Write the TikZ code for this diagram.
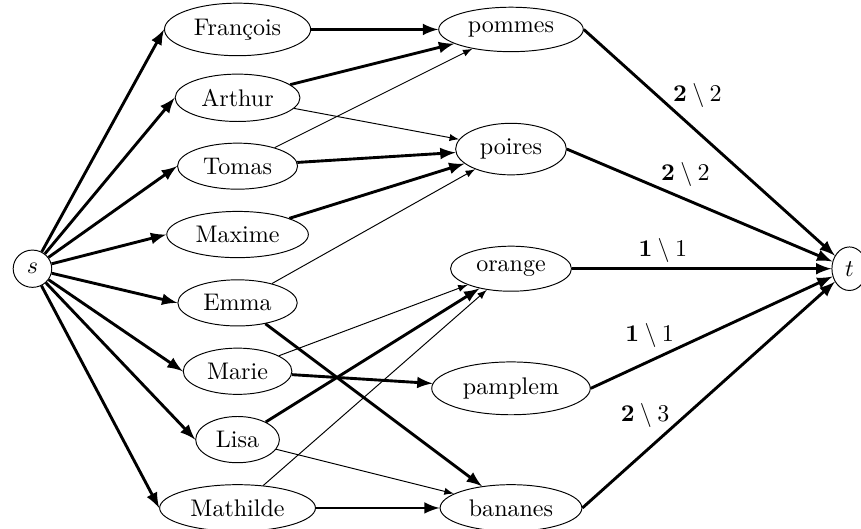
\documentclass[tikz,border=0pt]{standalone}
\usepackage{amsmath,amsfonts}
\usetikzlibrary{arrows,shapes}
\tikzstyle{fnode}=[draw, ellipse, line width=0.4pt]
\tikzstyle{flow}=[-latex, line width=1.2pt]
\tikzstyle{noflow}=[-latex, line width=0.4pt]
\tikzstyle{flowlbl}=[pos=0.35, inner sep=0pt]

\begin{document}
\begin{tikzpicture}[flow]
\useasboundingbox (-0.475,-0.307) rectangle (12.12,7.431);
\node[fnode] (s) at (0,3.5) {$s$};
\node[fnode] (t) at (11.95,3.5) {$t$};
\node[fnode] (Fr) at (3,7) {François};
\node[fnode] (Ar) at (3,6) {Arthur};
\node[fnode] (To) at (3,5) {Tomas};
\node[fnode] (Mx) at (3,4) {Maxime};
\node[fnode] (Em) at (3,3) {Emma};
\node[fnode] (Mr) at (3,2) {Marie};
\node[fnode] (Li) at (3,1) {Lisa};
\node[fnode] (Mt) at (3,0) {Mathilde};
\node[fnode] (Po) at (7,7) {pommes};
\node[fnode] (Pr) at (7,5.25) {poires};
\node[fnode] (Or) at (7,3.5) {orange};
\node[fnode] (Pa) at (7,1.75) {pamplem};
\node[fnode] (Ba) at (7,0) {bananes};
\foreach \p in {Fr,Ar,To,Mx,Em,Mr,Li,Mt} \draw (s)--(\p.west);
\draw (Fr)--(Po);\draw (Ar)--(Po);\draw[noflow] (Ar)--(Pr);
\draw[noflow] (To)--(Po);\draw (To)--(Pr);
\draw (Mx)--(Pr);
\draw[noflow] (Em)--(Pr);\draw (Em)--(Ba);
\draw[noflow] (Mr)--(Or);\draw (Mr)--(Pa);
\draw (Li)--(Or);\draw[noflow] (Li)--(Ba);
\draw[noflow] (Mt)--(Or);\draw (Mt)--(Ba);
\draw (Po.east)--(t) node[flowlbl, above right] {$\mathbf{2}\setminus 2$};
\draw (Pr.east)--(t) node[flowlbl, above right] {$\mathbf{2}\setminus 2$};
\draw (Or.east)--(t) node[flowlbl, above=2pt] {$\mathbf{1}\setminus 1$};
\draw (Pa.east)--(t) node[flowlbl, above left] {$\mathbf{1}\setminus 1$};
\draw (Ba.east)--(t) node[flowlbl, above left] {$\mathbf{2}\setminus 3$};
\end{tikzpicture}
\end{document}
